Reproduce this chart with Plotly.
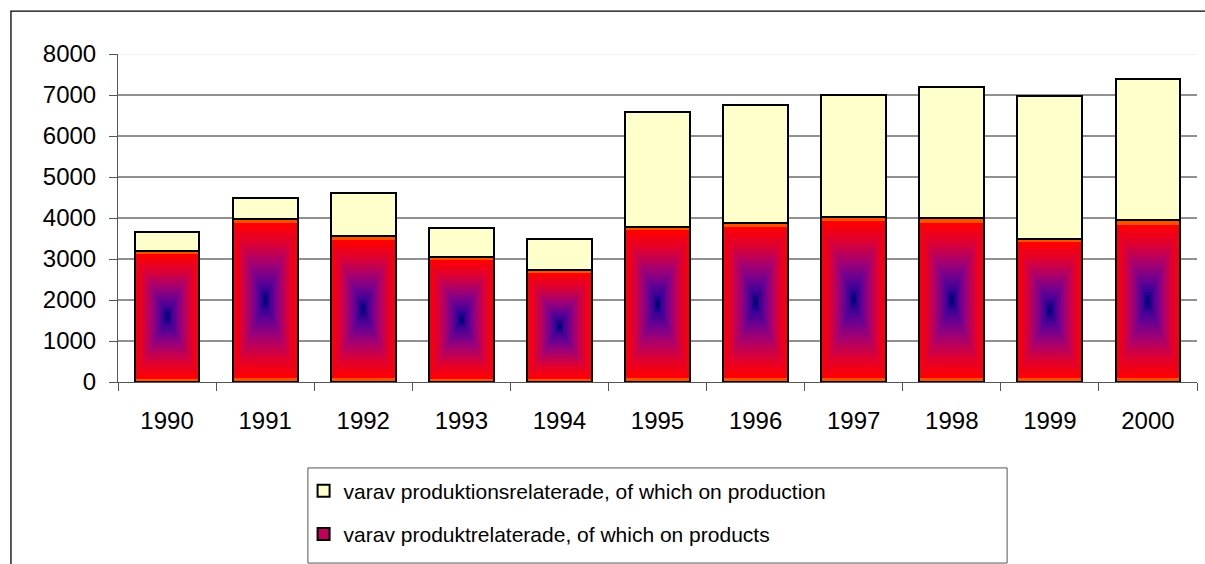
import plotly.graph_objects as go

# ---------------- data ----------------
years = ["1990", "1991", "1992", "1993", "1994", "1995", "1996", "1997", "1998", "1999", "2000"]
products = [3190, 3980, 3550, 3060, 2720, 3790, 3890, 4030, 3990, 3500, 3940]        # of which on products
totals = [3650, 4480, 4620, 3750, 3500, 6580, 6760, 7010, 7200, 6970, 7400]
production = [t - p for t, p in zip(totals, products)]                                 # of which on production
y_ticks = [0, 1000, 2000, 3000, 4000, 5000, 6000, 7000, 8000]

name_prod = "varav produktionsrelaterade, of which on production"
name_prods = "varav produktrelaterade, of which on products"

# ---------------- style ----------------
W = 0.66
FONT = "Liberation Sans, Arial, sans-serif"
N_LEVELS = 26
stops = [(0.0, (255, 0, 0)), (0.25, (222, 0, 50)), (0.5, (170, 0, 110)),
         (0.72, (110, 0, 145)), (0.88, (60, 0, 150)), (1.0, (0, 0, 120))]


def grad(t):
    for (t0, c0), (t1, c1) in zip(stops[:-1], stops[1:]):
        if t <= t1:
            f = (t - t0) / (t1 - t0) if t1 > t0 else 0
            return "rgb(%d,%d,%d)" % tuple(round(a + (b - a) * f) for a, b in zip(c0, c1))
    return "rgb(%d,%d,%d)" % stops[-1][1]


fig = go.Figure()

# orange outer band (top/bottom edges)
fig.add_trace(go.Bar(x=years, y=products, width=W, marker=dict(color="#FF5000", line=dict(width=0)),
                     showlegend=False, hoverinfo="skip"))
# concentric gradient rectangles
inset = 0.025
for k in range(N_LEVELS):
    s = 1 - k / N_LEVELS
    if k == 0:
        hs = [p * (1 - 2 * inset) for p in products]
        bs = [p * inset for p in products]
        ws = W
    else:
        hs = [p * (1 - 2 * inset) * s for p in products]
        bs = [p * inset + p * (1 - 2 * inset) * (1 - s) / 2 for p in products]
        ws = W * s
    fig.add_trace(go.Bar(x=years, y=hs, base=bs, width=ws,
                         marker=dict(color=grad(k / (N_LEVELS - 1)), line=dict(width=0)),
                         showlegend=False, hoverinfo="skip"))
# outline of products bars
fig.add_trace(go.Bar(x=years, y=products, width=W,
                     marker=dict(color="rgba(0,0,0,0)", line=dict(color="black", width=2)),
                     showlegend=False, hoverinfo="skip"))
# production bars stacked on top
fig.add_trace(go.Bar(x=years, y=production, base=products, width=W,
                     marker=dict(color="#FFFFCC", line=dict(color="black", width=2)),
                     showlegend=False, hoverinfo="skip"))

# legend entries
fig.add_trace(go.Bar(x=[None], y=[None], name=name_prod, legendrank=1, legendgroup="a",
                     marker=dict(color="#FFFFCC", line=dict(color="black", width=2))))
fig.add_trace(go.Bar(x=[None], y=[None], name=name_prods, legendrank=2, legendgroup="b",
                     marker=dict(color="#C0005A", line=dict(color="black", width=2))))

# gridlines
shapes = []
for v in y_ticks[1:-1]:
    shapes.append(dict(type="line", xref="paper", yref="y", x0=0, x1=1, y0=v, y1=v,
                       line=dict(color="#222222", width=1), layer="below"))
shapes.append(dict(type="line", xref="paper", yref="y", x0=0, x1=1, y0=y_ticks[-1], y1=y_ticks[-1],
                   line=dict(color="#E8E8E8", width=1), layer="below"))
# outer frame
shapes.append(dict(type="rect", xref="paper", yref="paper", x0=-0.0992, x1=1.3, y0=-0.8, y1=1.131,
                   line=dict(color="black", width=1.3), fillcolor="rgba(0,0,0,0)"))
# legend box
shapes.append(dict(type="rect", xref="paper", yref="paper", x0=0.176, x1=0.824, y0=-0.552, y1=-0.262,
                   line=dict(color="#555555", width=1), fillcolor="rgba(0,0,0,0)"))

fig.update_layout(
    width=1205, height=564,
    margin=dict(l=118, r=8, t=54, b=182),
    paper_bgcolor="white", plot_bgcolor="white",
    barmode="overlay",
    bargap=0,
    font=dict(family=FONT, size=22, color="black"),
    shapes=shapes,
    showlegend=True,
    legend=dict(x=0.172, y=-0.27, xanchor="left", yanchor="top",
                font=dict(family=FONT, size=21, color="black"),
                traceorder="grouped", tracegroupgap=13,
                bgcolor="rgba(0,0,0,0)", borderwidth=0),
    xaxis=dict(type="category", showgrid=False, showline=True, linecolor="#555555", linewidth=1,
               ticks="outside", ticklen=8, tickcolor="#555555", tickson="boundaries",
               ticklabelstandoff=17, tickfont=dict(family=FONT, size=24), fixedrange=True),
    yaxis=dict(range=[0, 8000], tickvals=y_ticks, showgrid=False, zeroline=False,
               showline=True, linecolor="#555555", linewidth=1,
               ticks="outside", ticklen=8, tickcolor="#555555",
               ticklabelstandoff=8, tickfont=dict(family=FONT, size=24), fixedrange=True),
)

fig.write_html("out.html", config={"displayModeBar": False},
               post_script="document.body.style.margin='0';document.body.style.overflow='hidden';")
